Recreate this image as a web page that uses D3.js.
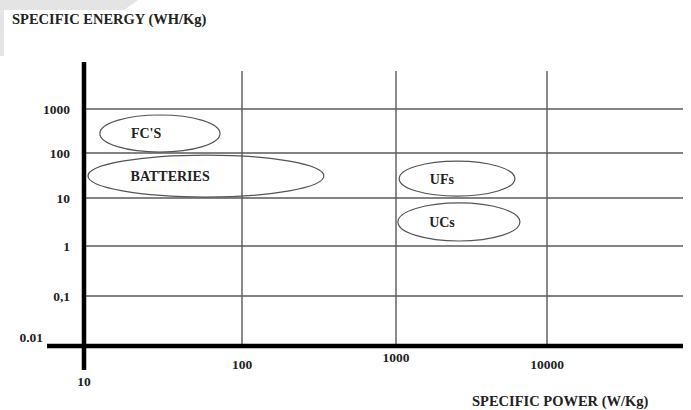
<!DOCTYPE html>
<html>
<head>
<meta charset="utf-8">
<script src="https://cdn.jsdelivr.net/npm/d3@7"></script>
<style>
  html, body { margin: 0; padding: 0; background: #fff; }
  svg { display: block; }
  text { font-family: "Liberation Serif", "Times New Roman", serif; font-weight: bold; fill: #222; }
</style>
</head>
<body>
<svg id="chart" width="691" height="410"></svg>
<script>
// Ragone-style plot: specific energy vs specific power (log axes)
const powerTicks = [10, 100, 1000, 10000];
const powerLabels = ["10", "100", "1000", "10000"];
const energyTicks = [0.01, 0.1, 1, 10, 100, 1000];
const energyLabels = ["0.01", "0,1", "1", "10", "100", "1000"];

// Each technology occupies a region: power range (W/Kg) and energy range (WH/Kg)
const regionNames = ["FC'S", "BATTERIES", "UFs", "UCs"];
const regionPowerMin = [12.6, 10.6, 1050, 1030];
const regionPowerMax = [72.6, 340, 6130, 6620];
const regionEnergyMin = [105, 10.5, 11, 1.27];
const regionEnergyMax = [730, 90, 66, 7.9];

const titleY = "SPECIFIC ENERGY (WH/Kg)";
const titleX = "SPECIFIC POWER (W/Kg)";

const svg = d3.select("#chart");

// hand-drawn decades are not perfectly even, so the log scales are piecewise
const x = d3.scaleLog()
  .domain([10, 100, 1000, 10000, 80000])
  .range([84, 242, 396, 547, 683]);
const y = d3.scaleLog()
  .domain([0.01, 0.1, 1, 10, 100, 1000])
  .range([346, 296, 246, 198, 153, 109]);

// faint grey scrap in the top-left corner
svg.append("path")
  .attr("d", "M0,0 L138,0 L124,10 L4,10 L4,56 L0,56 Z")
  .attr("fill", "#e4e4e4");

// horizontal grid lines (energy decades)
const gridColor = "#5a5a5a";
svg.append("g")
  .selectAll("line")
  .data(energyTicks.slice(1))
  .join("line")
  .attr("x1", x(10)).attr("x2", x(80000))
  .attr("y1", d => y(d)).attr("y2", d => y(d))
  .attr("stroke", gridColor).attr("stroke-width", 1.4);

// vertical grid lines (power decades)
svg.append("g")
  .selectAll("line")
  .data(powerTicks.slice(1))
  .join("line")
  .attr("x1", d => x(d)).attr("x2", d => x(d))
  .attr("y1", 71).attr("y2", y(0.01))
  .attr("stroke", gridColor).attr("stroke-width", 1.4);

// regions drawn as ellipses spanning their ranges
const regions = regionNames.map((name, i) => {
  const x0 = x(regionPowerMin[i]), x1 = x(regionPowerMax[i]);
  const y0 = y(regionEnergyMax[i]), y1 = y(regionEnergyMin[i]);
  return { name, x0, x1, y0, y1 };
});

const rg = svg.append("g");
rg.selectAll("ellipse")
  .data(regions)
  .join("ellipse")
  .attr("cx", d => (d.x0 + d.x1) / 2)
  .attr("cy", d => (d.y0 + d.y1) / 2)
  .attr("rx", d => (d.x1 - d.x0) / 2)
  .attr("ry", d => (d.y1 - d.y0) / 2)
  .attr("fill", "none")
  .attr("stroke", "#555")
  .attr("stroke-width", 1.2);

rg.selectAll("text")
  .data(regions)
  .join("text")
  .attr("x", d => d.x0 + 0.1 * (d.x1 - d.x0) + 19)
  .attr("y", d => (d.y0 + d.y1) / 2)
  .attr("dy", "0.35em")
  .attr("font-size", 14)
  .text(d => d.name);

// axes: heavy black lines crossing at (10, 0.01)
svg.append("line")
  .attr("x1", x(10)).attr("x2", x(10))
  .attr("y1", 62).attr("y2", 370)
  .attr("stroke", "#000").attr("stroke-width", 4.5);
svg.append("line")
  .attr("x1", 47).attr("x2", x(80000))
  .attr("y1", y(0.01)).attr("y2", y(0.01))
  .attr("stroke", "#000").attr("stroke-width", 4.5);

// energy tick labels
svg.append("g")
  .selectAll("text")
  .data(energyTicks)
  .join("text")
  .attr("x", (d, i) => i === 0 ? 43 : 70)
  .attr("y", (d, i) => y(d) + (i === 0 ? -9 : 0))
  .attr("dy", "0.35em")
  .attr("text-anchor", "end")
  .attr("font-size", 13.5)
  .text((d, i) => energyLabels[i]);

// power tick labels sit at staggered depths below the axis
const powerLabelDrop = [35, 18, 11, 18];
svg.append("g")
  .selectAll("text")
  .data(powerTicks)
  .join("text")
  .attr("x", d => x(d))
  .attr("y", (d, i) => y(0.01) + powerLabelDrop[i])
  .attr("dy", "0.35em")
  .attr("text-anchor", "middle")
  .attr("font-size", 13.5)
  .text((d, i) => powerLabels[i]);

// axis titles
svg.append("text")
  .attr("x", 12).attr("y", 24)
  .attr("font-size", 14.5)
  .text(titleY);
svg.append("text")
  .attr("x", 472).attr("y", 406)
  .attr("font-size", 14.5)
  .text(titleX);
</script>
</body>
</html>
